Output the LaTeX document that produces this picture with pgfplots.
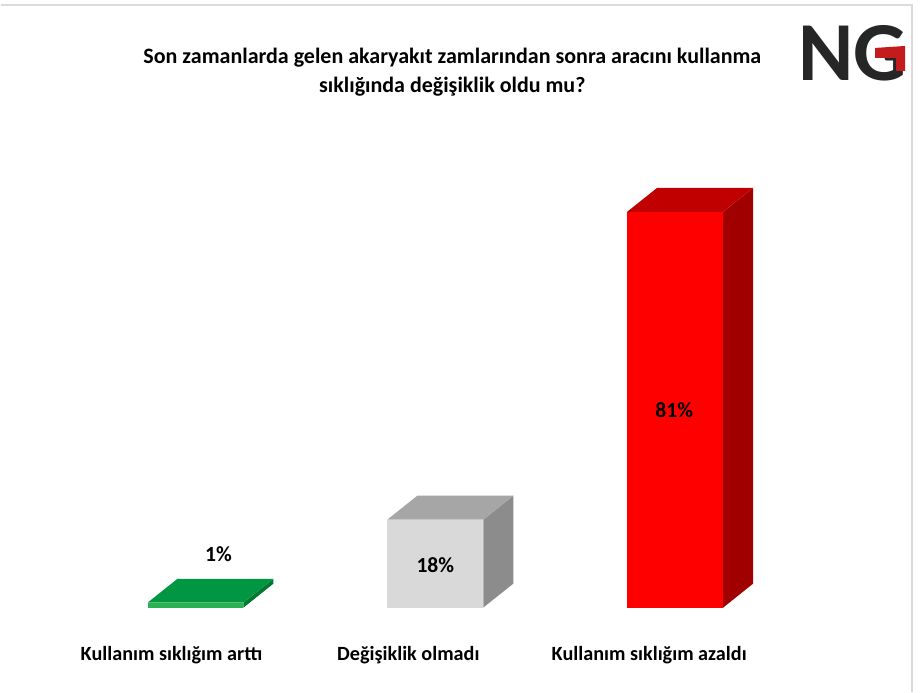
\documentclass[border=0pt]{standalone}
\usepackage{fontspec}
\setmainfont{Carlito}
\usepackage{pgfplots}
\pgfplotsset{compat=1.18}
\definecolor{gTop}{RGB}{0,150,66}
\definecolor{gFront}{RGB}{40,178,82}
\definecolor{gSide}{RGB}{0,120,50}
\definecolor{sTop}{RGB}{166,166,166}
\definecolor{sFront}{RGB}{217,217,217}
\definecolor{sSide}{RGB}{140,140,140}
\definecolor{rTop}{RGB}{192,0,0}
\definecolor{rFront}{RGB}{255,0,0}
\definecolor{rSide}{RGB}{160,0,0}
\definecolor{logoGray}{RGB}{38,38,38}
\definecolor{logoRed}{RGB}{196,28,28}
\definecolor{frameGray}{RGB}{218,218,218}
% 3D faces (top and side) of a bar at x=#1 with value #2
\newcommand{\cubefaces}[4]{%
  \pgfmathsetmacro\xl{#1-0.2}%
  \pgfmathsetmacro\xr{#1+0.2}%
  \pgfmathsetmacro\xld{#1-0.2+0.125}%
  \pgfmathsetmacro\xrd{#1+0.2+0.125}%
  \pgfmathsetmacro\vt{#2+4.9}%
  \edef\tmp{\noexpand\addplot[fill=#4,draw=none,forget plot] coordinates {(\xr,0) (\xrd,4.9) (\xrd,\vt) (\xr,#2)};}\tmp
  \edef\tmp{\noexpand\addplot[fill=#3,draw=none,forget plot] coordinates {(\xl,#2) (\xr,#2) (\xrd,\vt) (\xld,\vt)};}\tmp
}
\begin{document}
\begin{tikzpicture}
\begin{axis}[
  width=461pt, height=346pt, scale only axis,
  xmin=-0.8125, xmax=3.029167,
  ymin=-17.178, ymax=124.335,
  hide axis, clip=false,
]
\fill[white] (rel axis cs:0,0) rectangle (rel axis cs:1,1);
% frame
\draw[frameGray, line width=0.6pt] (axis cs:-0.8125,123.31) -- (axis cs:2.9875,123.31) -- (axis cs:2.9875,-17.178);
% side and top faces
\cubefaces{0}{1}{gTop}{gSide}
\cubefaces{1}{18}{sTop}{sSide}
\cubefaces{2}{81}{rTop}{rSide}
% front faces
\addplot[ybar, bar width=0.4, bar shift=0pt, fill=gFront, draw=none] coordinates {(0,1)};
\addplot[ybar, bar width=0.4, bar shift=0pt, fill=sFront, draw=none] coordinates {(1,18)};
\addplot[ybar, bar width=0.4, bar shift=0pt, fill=rFront, draw=none] coordinates {(2,81)};
% value labels
\node[font=\bfseries\fontsize{10.8}{13}\selectfont] at (axis cs:0.0958,10.84) {1\%};
\node[font=\bfseries\fontsize{10.8}{13}\selectfont] at (axis cs:1.0,8.59) {18\%};
\node[font=\bfseries\fontsize{10.8}{13}\selectfont] at (axis cs:1.996,40.49) {81\%};
% category labels
\node[font=\bfseries\fontsize{10.1}{12}\selectfont] at (axis cs:-0.1,-9.82) {Kullanım sıklığım arttı};
\node[font=\bfseries\fontsize{10.1}{12}\selectfont] at (axis cs:0.8875,-9.82) {Değişiklik olmadı};
\node[font=\bfseries\fontsize{10.1}{12}\selectfont] at (axis cs:1.8917,-9.82) {Kullanım sıklığım azaldı};
% title
\node[font=\bfseries\fontsize{11}{14.5}\selectfont, align=center] at (axis cs:1.0708,109.5)
  {Son zamanlarda gelen akaryakıt zamlarından sonra aracını kullanma\\sıklığında değişiklik oldu mu?};
% logo
\node[font=\bfseries\fontsize{42}{44}\selectfont, text=logoGray, inner sep=0pt] at (axis cs:2.7396,113.5) {NG};
\fill[logoRed] (axis cs:2.8333,114.52) -- (axis cs:2.9583,114.93) -- (axis cs:2.9583,109.82) -- (axis cs:2.9208,109.82) -- (axis cs:2.9208,112.47) -- (axis cs:2.8333,112.47) -- cycle;
\end{axis}
\end{tikzpicture}
\end{document}
